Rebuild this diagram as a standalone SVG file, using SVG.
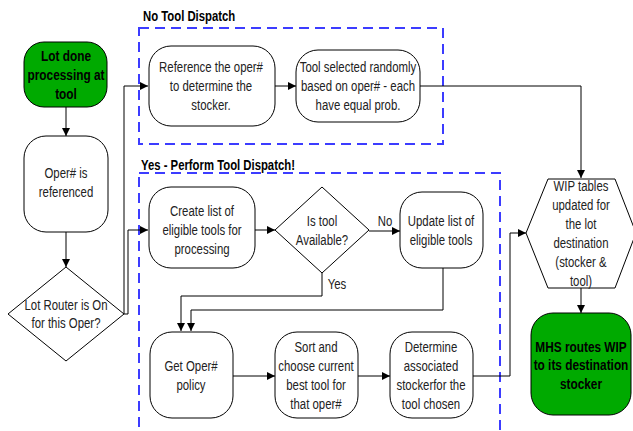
<svg xmlns="http://www.w3.org/2000/svg" width="633" height="431" viewBox="0 0 633 431">
<defs>
<marker id="arr" viewBox="0 0 10 10" refX="10" refY="5" markerWidth="8" markerHeight="8" markerUnits="userSpaceOnUse" orient="auto">
<path d="M0,0 L10,5 L0,10 z" fill="#000"/>
</marker>
<style>
.box{fill:#fff;stroke:#000;stroke-width:1}
.green{fill:#00aa00;stroke:#000;stroke-width:1}
.t{font-family:"Liberation Sans",Arial,sans-serif;font-size:15px;fill:#222;text-anchor:middle}
.b{font-weight:bold;fill:#000}
.lbl{font-family:"Liberation Sans",Arial,sans-serif;font-size:14px;font-weight:bold;fill:#000}
.grp{fill:none;stroke:#3c3cff;stroke-width:2;stroke-dasharray:10,6}
.ca{fill:none;stroke:#000;stroke-width:1;marker-end:url(#arr)}
</style>
</defs>
<rect width="633" height="431" fill="#fff"/>

<g id="group-no-tool">
<rect class="grp" x="139" y="28" width="304" height="116"/>
<text class="lbl" transform="matrix(0.81 0 0 1 143 21)">No Tool Dispatch</text>
</g>
<g id="group-yes">
<rect class="grp" x="139" y="173" width="361" height="270"/>
<text class="lbl" transform="matrix(0.81 0 0 1 141 170)">Yes - Perform Tool Dispatch!</text>
</g>

<g id="connectors">
<path class="ca" d="M66,107 V136"/>
<path class="ca" d="M66,232 V267"/>
<path class="ca" d="M124,314 V86 H148"/>
<path class="ca" d="M124,314 H128 V230 H148"/>
<path class="ca" d="M275,86 H296"/>
<path class="ca" d="M420,86 H581 V178"/>
<path class="ca" d="M255,230 H275"/>
<path class="ca" d="M369,231 H400"/>
<path class="ca" d="M322,273 V296 H181 V331"/>
<path class="ca" d="M443,268 V310 H191 V331"/>
<path class="ca" d="M233,376 H275"/>
<path class="ca" d="M358,376 H390"/>
<path class="ca" d="M473,376 H510 V233 H526"/>
<path class="ca" d="M581,288 V313"/>
<text class="t" transform="matrix(0.76 0 0 1 385 226)">No</text>
<text class="t" transform="matrix(0.76 0 0 1 337 289)">Yes</text>
</g>

<g id="lot-done">
<rect class="green" x="24" y="42" width="83" height="65" rx="20"/>
<text class="t b" transform="matrix(0.79 0 0 1 66 61)">Lot done</text>
<text class="t b" transform="matrix(0.79 0 0 1 66 80)">processing at</text>
<text class="t b" transform="matrix(0.79 0 0 1 66 99)">tool</text>
</g>
<g id="oper-ref">
<rect class="box" x="24" y="136" width="84" height="96" rx="22"/>
<text class="t" transform="matrix(0.76 0 0 1 66 178)">Oper# is</text>
<text class="t" transform="matrix(0.76 0 0 1 66 197)">referenced</text>
</g>
<g id="lot-router">
<path class="box" d="M66,267 L124,314 L66,361 L8,314 Z"/>
<text class="t" transform="matrix(0.76 0 0 1 66 310)">Lot Router is On</text>
<text class="t" transform="matrix(0.76 0 0 1 66 328)">for this Oper?</text>
</g>
<g id="reference-oper">
<rect class="box" x="149" y="46" width="126" height="80" rx="22"/>
<text class="t" transform="matrix(0.76 0 0 1 211 72)">Reference the oper#</text>
<text class="t" transform="matrix(0.76 0 0 1 211 91)">to determine the</text>
<text class="t" transform="matrix(0.76 0 0 1 211 110)">stocker.</text>
</g>
<g id="tool-random">
<rect class="box" x="296" y="50" width="124" height="72" rx="22"/>
<text class="t" transform="matrix(0.76 0 0 1 358 72)">Tool selected randomly</text>
<text class="t" transform="matrix(0.76 0 0 1 358 91)">based on oper# - each</text>
<text class="t" transform="matrix(0.76 0 0 1 358 110)">have equal prob.</text>
</g>
<g id="create-list">
<rect class="box" x="149" y="187" width="106" height="81" rx="22"/>
<text class="t" transform="matrix(0.76 0 0 1 202 216)">Create list of</text>
<text class="t" transform="matrix(0.76 0 0 1 202 235)">eligible tools for</text>
<text class="t" transform="matrix(0.76 0 0 1 202 254)">processing</text>
</g>
<g id="is-tool">
<path class="box" d="M322,187 L369,230 L322,273 L275,230 Z"/>
<text class="t" transform="matrix(0.76 0 0 1 322 226)">Is tool</text>
<text class="t" transform="matrix(0.76 0 0 1 322 245)">Available?</text>
</g>
<g id="update-list">
<rect class="box" x="400" y="192" width="83" height="76" rx="22"/>
<text class="t" transform="matrix(0.76 0 0 1 441 226)">Update list of</text>
<text class="t" transform="matrix(0.76 0 0 1 441 245)">eligible tools</text>
</g>
<g id="get-policy">
<rect class="box" x="150" y="332" width="83" height="86" rx="22"/>
<text class="t" transform="matrix(0.76 0 0 1 191 371)">Get Oper#</text>
<text class="t" transform="matrix(0.76 0 0 1 191 390)">policy</text>
</g>
<g id="sort-choose">
<rect class="box" x="275" y="332" width="83" height="86" rx="22"/>
<text class="t" transform="matrix(0.76 0 0 1 316 352)">Sort and</text>
<text class="t" transform="matrix(0.76 0 0 1 316 371)">choose current</text>
<text class="t" transform="matrix(0.76 0 0 1 316 390)">best tool for</text>
<text class="t" transform="matrix(0.76 0 0 1 316 409)">that oper#</text>
</g>
<g id="determine-stocker">
<rect class="box" x="390" y="332" width="83" height="86" rx="22"/>
<text class="t" transform="matrix(0.76 0 0 1 431 352)">Determine</text>
<text class="t" transform="matrix(0.76 0 0 1 431 371)">associated</text>
<text class="t" transform="matrix(0.76 0 0 1 431 390)">stockerfor the</text>
<text class="t" transform="matrix(0.76 0 0 1 431 409)">tool chosen</text>
</g>
<g id="wip-tables">
<path class="box" d="M548,179 L615,179 L636,233 L615,288 L548,288 L526,233 Z"/>
<text class="t" transform="matrix(0.76 0 0 1 581 191)">WIP tables</text>
<text class="t" transform="matrix(0.76 0 0 1 581 210)">updated for</text>
<text class="t" transform="matrix(0.76 0 0 1 581 229)">the lot</text>
<text class="t" transform="matrix(0.76 0 0 1 581 248)">destination</text>
<text class="t" transform="matrix(0.76 0 0 1 581 267)">(stocker &amp;</text>
<text class="t" transform="matrix(0.76 0 0 1 581 286)">tool)</text>
</g>
<g id="mhs-routes">
<rect class="green" x="531" y="313" width="100" height="102" rx="22"/>
<text class="t b" transform="matrix(0.79 0 0 1 581 352)">MHS routes WIP</text>
<text class="t b" transform="matrix(0.79 0 0 1 581 370)">to its destination</text>
<text class="t b" transform="matrix(0.79 0 0 1 581 389)">stocker</text>
</g>
</svg>
